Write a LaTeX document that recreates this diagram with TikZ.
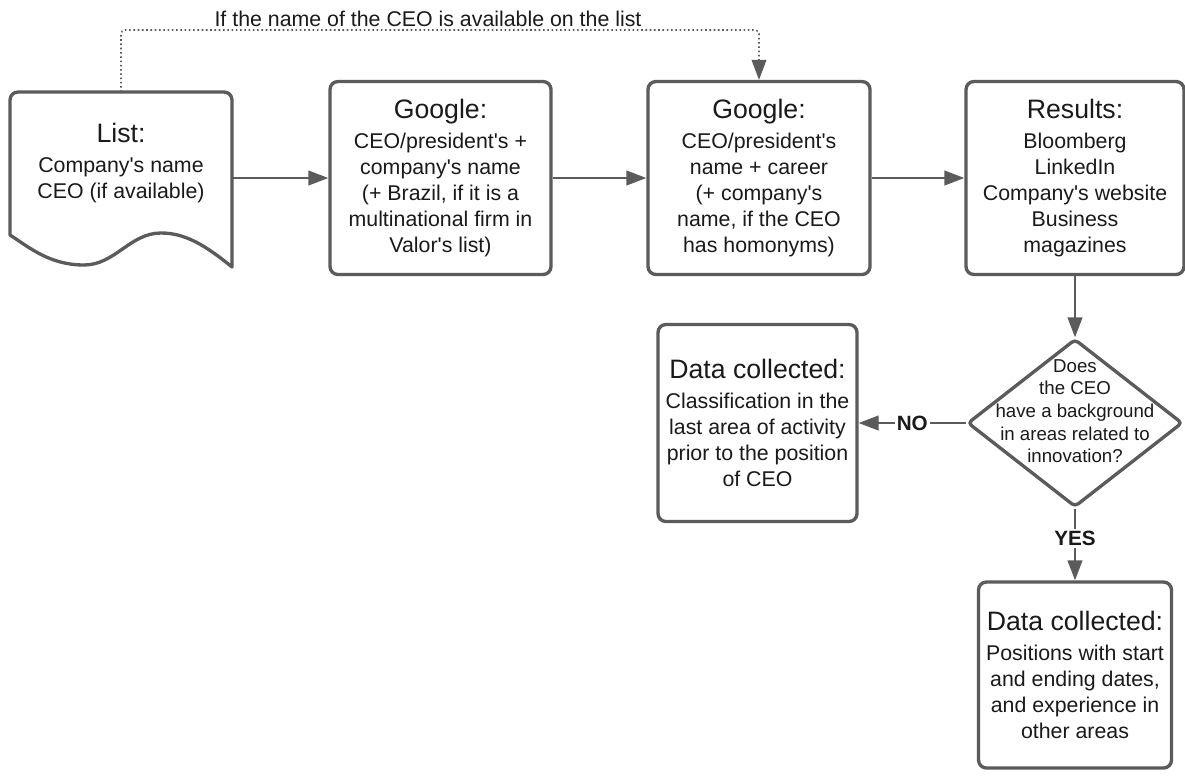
\documentclass[tikz,border=0pt]{standalone}
\usepackage{fontspec}
\setmainfont{Liberation Sans}[Ligatures=TeXOff]
\usetikzlibrary{arrows.meta,shapes.geometric}
\definecolor{edgegray}{HTML}{5B5B5B}
\definecolor{inkgray}{HTML}{1A1A1A}
% heading line of a box, followed by the body lines
\newcommand{\boxhead}[1]{{\fontsize{20}{24}\selectfont #1}\\[2.5pt]}
\begin{document}
\begin{tikzpicture}[x=0.75pt,y=-0.75pt,
  box/.style={draw=edgegray, line width=2.5pt, rounded corners=6pt, fill=white,
    align=center, text=inkgray, inner sep=0pt,
    font=\fontsize{16}{19.5}\selectfont},
  bodytext/.style={align=center, text=inkgray, inner sep=0pt,
    font=\fontsize{16}{19.5}\selectfont},
  flow/.style={draw=edgegray, line width=1.6pt,
    -{Triangle[length=15pt,width=11pt]}},
  dotline/.style={draw=edgegray, line width=1.2pt, dotted, rounded corners=3pt,
    -{Triangle[length=15pt,width=11pt]}},
  answer/.style={fill=white, inner sep=1.5pt, text=inkgray,
    font=\fontsize{15.5}{18}\selectfont\bfseries},
]
\useasboundingbox (0,0) rectangle (1185,775);

% input list drawn as a document shape
\draw[draw=edgegray, line width=2.5pt, fill=white, line join=round]
  (10,235) [rounded corners=6pt] -- (10,92) -- (232,92) [sharp corners] -- (232,267)
  .. controls (205,245) and (185,233) .. (161,233)
  .. controls (130,233) and (115,265) .. (84,265)
  .. controls (50,265) and (30,248) .. (10,235) -- cycle;
\coordinate (listtop) at (121,92);
\coordinate (listR) at (232,178);
\node[bodytext] (listtxt) at (121,163) {\boxhead{List:}Company's name\\CEO (if available)};

% search steps
\node[box, minimum width=221*0.75pt, minimum height=193*0.75pt] (g1) at (440.5,178)
  {\boxhead{Google:}CEO/president's +\\company's name\\(+ Brazil, if it is a\\multinational firm in\\Valor's list)};
\node[box, minimum width=222*0.75pt, minimum height=193*0.75pt] (g2) at (759,178)
  {\boxhead{Google:}CEO/president's\\name + career\\(+ company's\\name, if the CEO\\has homonyms)};
\node[box, minimum width=218*0.75pt, minimum height=193*0.75pt] (res) at (1075,178)
  {\boxhead{Results:}Bloomberg\\LinkedIn\\Company's website\\Business\\magazines};

% decision
\node[diamond, draw=edgegray, line width=2.5pt, fill=white, rounded corners=3pt,
  inner sep=0pt, minimum width=215*0.75pt, minimum height=168*0.75pt] (q) at (1075,423) {};
\node[align=center, text=inkgray, inner sep=0pt, font=\fontsize{14}{17}\selectfont]
  (qtext) at (1075,411) {Does\\the CEO\\have a background\\in areas related to\\innovation?};

% outcomes
\node[box, minimum width=199*0.75pt, minimum height=197*0.75pt] (nobox) at (757.5,423)
  {\boxhead{Data collected:}Classification in the\\last area of activity\\prior to the position\\of CEO};
\node[box, minimum width=193*0.75pt, minimum height=186*0.75pt] (yesbox) at (1075,675)
  {\boxhead{Data collected:}Positions with start\\and ending dates,\\and experience in\\other areas};

% connectors
\draw[flow] (listR) -- (listR -| g1.west);
\draw[flow] (g1) -- (g2);
\draw[flow] (g2) -- (res);
\draw[flow] (res) -- (q);
\draw[flow] (q.west) -- node[answer] {NO} (nobox.east);
\draw[flow] (q.south) -- node[answer, pos=0.42] {YES} (yesbox.north);

% shortcut when the CEO's name is already known
\coordinate (hop) at (759,30);
\draw[dotline] (listtop) |- (hop) -- (g2.north);
\node[anchor=base, text=inkgray, inner sep=0pt, font=\fontsize{16}{19}\selectfont]
  (cond) at (428,26) {If the name of the CEO is available on the list};
\end{tikzpicture}
\end{document}
